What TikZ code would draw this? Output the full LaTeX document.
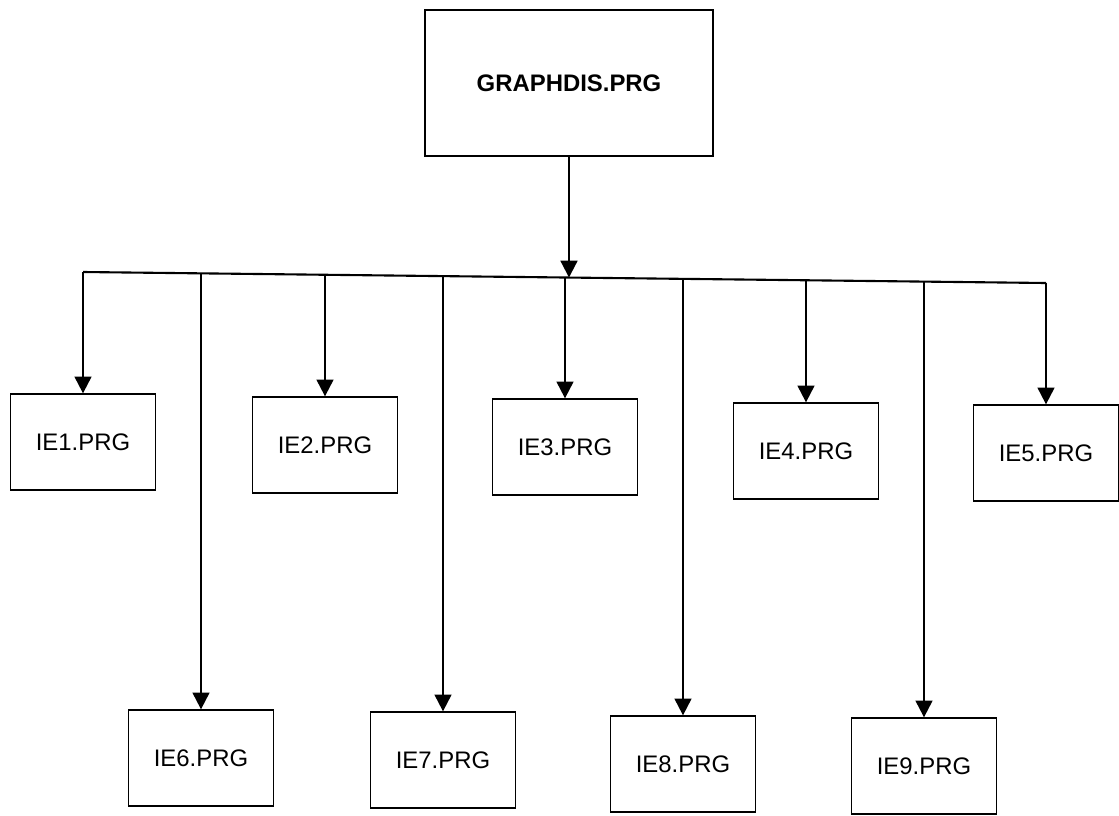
\documentclass[tikz,border=0pt]{standalone}
\usepackage{fontspec}
\setmainfont{Liberation Sans}
\usetikzlibrary{positioning,arrows.meta,calc}

\tikzset{
  prgbox/.style={draw, line width=0.9pt, minimum width=3.63cm, minimum height=2.4cm,
    font=\fontsize{17}{20}\selectfont},
  mainbox/.style={prgbox, minimum width=7.2cm, minimum height=3.65cm,
    font=\fontsize{17}{20}\selectfont\bfseries},
  link/.style={line width=1.5pt},
  call/.style={link, -{Triangle[width=0.42cm,length=0.42cm]}}
}

\begin{document}
\begin{tikzpicture}[x=0.025cm,y=-0.025cm]
    \useasboundingbox (0,0) rectangle (1119,816);

    \node[mainbox] (main) at (569,83) {GRAPHDIS.PRG};

    % first row
    \node[prgbox] (ie1) at (83,442)   {IE1.PRG};
    \node[prgbox] (ie2) at (325,445)  {IE2.PRG};
    \node[prgbox] (ie3) at (565,447)  {IE3.PRG};
    \node[prgbox] (ie4) at (806,451)  {IE4.PRG};
    \node[prgbox] (ie5) at (1046,453) {IE5.PRG};

    % second row
    \node[prgbox] (ie6) at (201,758) {IE6.PRG};
    \node[prgbox] (ie7) at (443,760) {IE7.PRG};
    \node[prgbox] (ie8) at (683,764) {IE8.PRG};
    \node[prgbox] (ie9) at (924,766) {IE9.PRG};

    \coordinate (busL) at (83,272);
    \coordinate (busR) at (1046,283);
    \draw[link] (busL) -- (busR);

    \draw[call] (main.south) -- (main.south |- {$(busL)!(main.south)!(busR)$});
    \foreach \n in {ie1,ie2,ie3,ie4,ie5,ie6,ie7,ie8,ie9} {
        \draw[call] (\n.north |- {$(busL)!(\n.north)!(busR)$}) -- (\n.north);
    }

\end{tikzpicture}
\end{document}
